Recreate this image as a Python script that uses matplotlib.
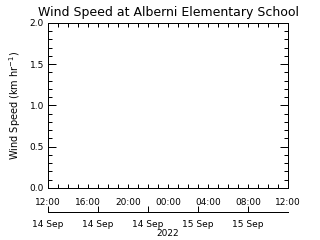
import numpy as np
import matplotlib
matplotlib.use('Agg')
import matplotlib.pyplot as plt
from matplotlib.ticker import MultipleLocator, FixedLocator

# hours from 12:00 14 Sep 2022 to 12:00 15 Sep 2022 (no data recorded)
hours_range = [0, 24]
time_ticks = [0, 4, 8, 12, 16, 20, 24]
time_labels = ['12:00', '16:00', '20:00', '00:00', '04:00', '08:00', '12:00']
date_ticks = [0, 5, 10, 15, 20]
date_labels = ['14 Sep', '14 Sep', '14 Sep', '15 Sep', '15 Sep']
year_label = '2022'
speed = []
speed_hours = []
y_range = [0.0, 2.0]
y_ticks = [0.0, 0.5, 1.0, 1.5, 2.0]

plt.rcParams['font.family'] = 'DejaVu Sans'

fig = plt.figure(figsize=(3.2, 2.4), dpi=100)
ax = fig.add_axes([0.15, 0.2167, 0.75, 0.6875])
ax.plot(speed_hours, speed, color='black', lw=0.8)

ax.set_xlim(hours_range)
ax.set_ylim(y_range)
ax.xaxis.set_major_locator(FixedLocator(time_ticks))
ax.set_xticklabels(time_labels)
ax.xaxis.set_minor_locator(MultipleLocator(1))
ax.yaxis.set_major_locator(FixedLocator(y_ticks))
ax.set_yticklabels(['%.1f' % v for v in y_ticks])
ax.yaxis.set_minor_locator(MultipleLocator(0.1))

ax.tick_params(axis='both', which='both', direction='in', top=True, right=True,
               width=0.72, labelsize=6.5, colors='black')
ax.tick_params(axis='x', which='both', length=3, pad=7)
ax.tick_params(axis='y', which='major', length=6, pad=3)
ax.tick_params(axis='y', which='minor', length=3)
for s in ax.spines.values():
    s.set_linewidth(0.72)

ax.set_title('Wind Speed at Alberni Elementary School', fontsize=9, pad=5)
ax.set_ylabel('Wind Speed (km hr$^{-1}$)', fontsize=7, labelpad=5)

# second time axis with dates
ax2 = fig.add_axes([0.15, 1 - 212 / 240, 0.75, 1e-4])
ax2.set_xlim(hours_range)
for side in ['top', 'left', 'right']:
    ax2.spines[side].set_visible(False)
ax2.spines['bottom'].set_linewidth(0.72)
ax2.set_yticks([])
ax2.xaxis.set_major_locator(FixedLocator(date_ticks))
ax2.set_xticklabels(date_labels)
ax2.tick_params(axis='x', direction='in', length=4, width=0.72, pad=6, labelsize=6.5)
ax2.set_xlabel(year_label, fontsize=6.5, labelpad=0)
ax2.patch.set_visible(False)

fig.savefig('out.png', dpi=100)
